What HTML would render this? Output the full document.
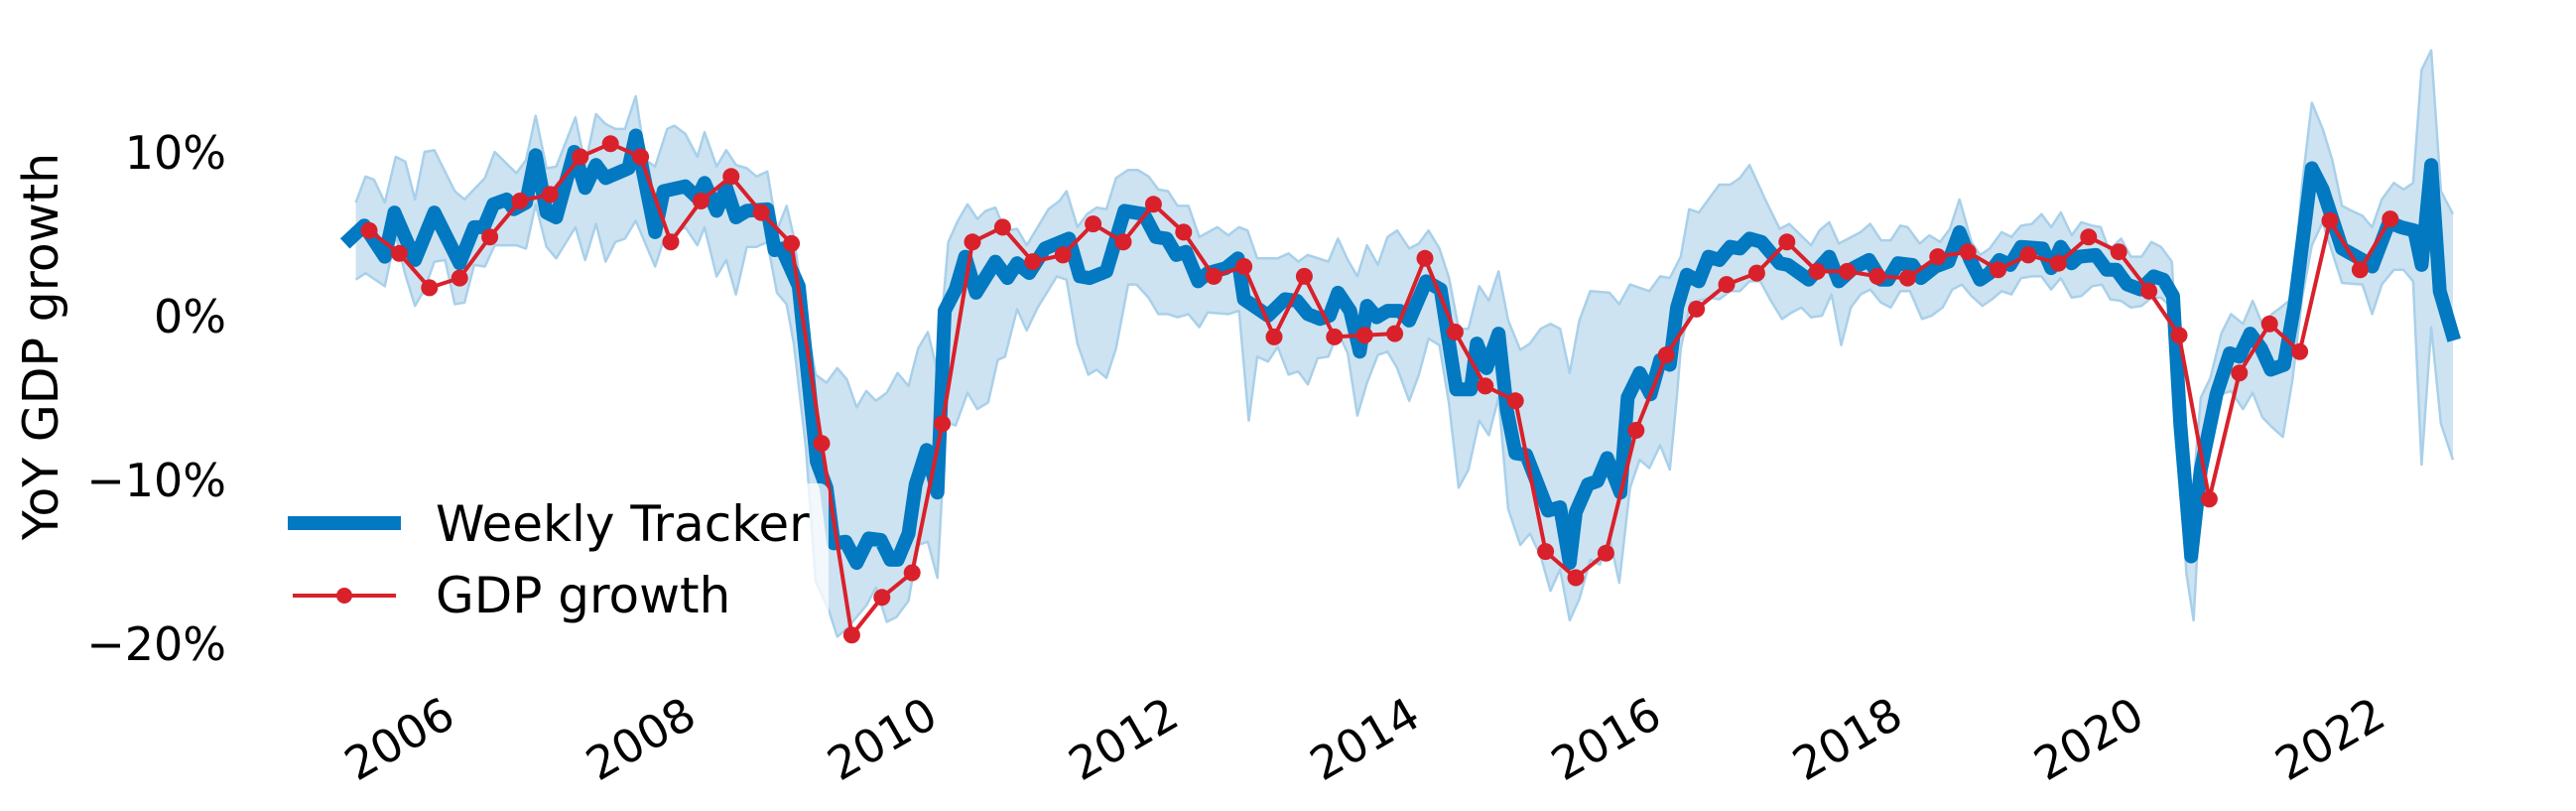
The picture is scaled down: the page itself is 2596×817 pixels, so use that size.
<!DOCTYPE html>
<html><head><meta charset="utf-8"><style>
html,body{margin:0;padding:0;background:#fff;}
svg{display:block;font-family:"DejaVu Sans","Liberation Sans",sans-serif;}
</style></head><body>
<svg id="chart" width="2596" height="817" viewBox="0 0 2596 817" xmlns="http://www.w3.org/2000/svg">
<g id="band"></g>
<g id="tracker"></g>
<g id="gdp"></g>
<g id="yaxis"></g>
<g id="xaxis"></g>
<text x="58" y="349" font-size="49" text-anchor="middle" transform="rotate(-90 58 349)">YoY GDP growth</text>
<g>
<rect x="276" y="487" width="559" height="158" rx="9" fill="#fff" fill-opacity="0.75" stroke="none"/>
<line x1="290" y1="527" x2="404" y2="527" stroke="#0279c1" stroke-width="14"/>
<text x="439" y="545" font-size="50">Weekly Tracker</text>
<line x1="295" y1="600" x2="399" y2="600" stroke="#d9212b" stroke-width="4"/>
<circle cx="347" cy="600" r="8" fill="#d9212b"/>
<text x="439" y="617" font-size="50">GDP growth</text>
</g>
</svg>
<script>
const gdpStart = 2005.25;
const gdpValues = [5.2,3.8,1.7,2.3,4.8,7.0,7.4,9.7,10.5,9.7,4.5,7.0,8.5,6.3,4.4,-7.8,-19.5,-17.2,-15.7,-6.6,4.5,5.4,3.3,3.7,5.6,4.5,6.8,5.1,2.4,3.0,-1.3,2.4,-1.3,-1.2,-1.1,3.5,-1.0,-4.3,-5.2,-14.4,-16.0,-14.5,-7.0,-2.4,0.4,1.9,2.6,4.5,2.7,2.7,2.4,2.3,3.6,3.9,2.8,3.7,3.2,4.8,3.9,1.5,-1.2,-11.2,-3.5,-0.5,-2.2,5.8,2.8,5.9];
const trackerDates = [2005.05,2005.21,2005.38,2005.46,2005.63,2005.79,2006.00,2006.12,2006.20,2006.28,2006.39,2006.45,2006.55,2006.63,2006.72,2006.80,2006.95,2007.04,2007.13,2007.21,2007.40,2007.46,2007.62,2007.69,2007.87,2007.97,2008.03,2008.13,2008.21,2008.29,2008.38,2008.55,2008.61,2008.67,2008.81,2008.88,2008.96,2009.04,2009.10,2009.20,2009.29,2009.39,2009.49,2009.57,2009.63,2009.72,2009.78,2009.87,2009.96,2010.02,2010.11,2010.19,2010.28,2010.44,2010.54,2010.62,2010.72,2010.85,2011.05,2011.14,2011.22,2011.36,2011.51,2011.67,2011.77,2011.86,2011.94,2012.02,2012.12,2012.20,2012.35,2012.45,2012.50,2012.70,2012.84,2012.94,2013.03,2013.13,2013.21,2013.28,2013.38,2013.46,2013.52,2013.60,2013.69,2013.79,2013.87,2014.01,2014.13,2014.26,2014.38,2014.43,2014.51,2014.61,2014.68,2014.75,2014.84,2015.02,2015.12,2015.20,2015.25,2015.35,2015.43,2015.51,2015.62,2015.68,2015.78,2015.87,2015.95,2016.03,2016.09,2016.17,2016.27,2016.35,2016.44,2016.53,2016.61,2016.69,2016.79,2016.94,2017.01,2017.18,2017.35,2017.43,2017.55,2017.68,2017.78,2017.84,2017.92,2018.04,2018.11,2018.23,2018.34,2018.43,2018.52,2018.60,2018.68,2018.76,2018.85,2018.94,2019.12,2019.19,2019.27,2019.36,2019.42,2019.56,2019.65,2019.73,2019.82,2019.93,2020.04,2020.12,2020.20,2020.26,2020.35,2020.43,2020.56,2020.67,2020.75,2020.84,2020.93,2021.01,2021.12,2021.21,2021.35,2021.44,2021.60,2021.77,2021.85,2021.99,2022.09,2022.20,2022.26,2022.34,2022.41,2022.53];
const trackerValues = [4.4,5.5,3.6,6.3,3.4,6.3,3.2,5.4,5.4,6.8,7.1,6.5,6.9,9.8,6.3,6.0,10.0,7.8,9.2,8.4,9.0,11.0,5.1,7.6,7.9,7.2,8.1,6.4,7.8,6.0,6.4,6.5,4.0,4.1,1.8,-3.2,-8.9,-10.5,-13.9,-13.8,-15.1,-13.6,-13.7,-14.9,-14.9,-13.3,-10.3,-8.2,-10.8,0.3,1.6,3.6,1.4,3.3,2.3,3.2,2.6,4.1,4.7,2.4,2.3,2.7,6.4,6.2,4.8,4.7,3.7,3.9,2.1,2.6,2.9,3.5,1.0,0.0,1.0,0.9,0.1,-0.2,0.0,1.4,0.3,-2.2,0.6,-0.1,0.3,0.3,-0.3,2.1,1.6,-4.5,-4.5,-1.7,-3.2,-1.1,-5.8,-8.4,-8.5,-11.9,-11.7,-15.1,-12.0,-10.3,-10.1,-8.7,-10.8,-5.0,-3.5,-4.8,-2.7,-3.0,0.5,2.5,2.1,3.6,3.4,4.2,4.1,4.7,4.5,3.2,3.1,2.2,3.6,2.1,2.9,3.4,2.2,2.2,3.2,3.1,2.3,3.0,3.3,5.1,3.4,2.2,2.6,3.4,3.1,4.2,4.1,2.9,4.2,3.2,3.6,3.7,2.8,2.8,1.9,1.6,2.4,2.2,1.2,-6.6,-14.7,-9.4,-4.8,-2.3,-2.5,-1.1,-2.0,-3.3,-3.0,0.8,9.0,7.7,4.1,3.4,3.0,5.7,5.4,5.2,3.1,9.2,1.5,-1.5];
const upperDates = [2005.14,2005.22,2005.29,2005.38,2005.47,2005.55,2005.63,2005.71,2005.79,2005.96,2006.04,2006.21,2006.29,2006.47,2006.55,2006.63,2006.72,2006.80,2006.96,2007.04,2007.13,2007.21,2007.29,2007.37,2007.46,2007.54,2007.62,2007.72,2007.78,2007.87,2007.97,2008.03,2008.13,2008.21,2008.29,2008.38,2008.46,2008.55,2008.63,2008.71,2008.77,2008.85,2008.95,2009.04,2009.13,2009.21,2009.29,2009.37,2009.45,2009.54,2009.63,2009.72,2009.80,2009.88,2009.96,2010.05,2010.13,2010.21,2010.29,2010.36,2010.44,2010.52,2010.62,2010.70,2010.79,2010.88,2010.97,2011.03,2011.12,2011.20,2011.28,2011.36,2011.44,2011.54,2011.62,2011.71,2011.79,2011.87,2011.95,2012.04,2012.13,2012.28,2012.37,2012.46,2012.53,2012.61,2012.78,2012.87,2012.95,2013.03,2013.20,2013.28,2013.36,2013.44,2013.52,2013.61,2013.69,2013.77,2013.87,2013.95,2014.03,2014.12,2014.20,2014.28,2014.36,2014.45,2014.53,2014.61,2014.69,2014.79,2014.87,2014.96,2015.04,2015.12,2015.20,2015.28,2015.37,2015.53,2015.61,2015.70,2015.86,2015.95,2016.03,2016.12,2016.19,2016.27,2016.44,2016.53,2016.61,2016.69,2016.82,2016.94,2017.02,2017.20,2017.27,2017.35,2017.43,2017.51,2017.61,2017.69,2017.78,2017.86,2017.94,2018.00,2018.10,2018.18,2018.27,2018.35,2018.43,2018.53,2018.60,2018.68,2018.78,2018.86,2018.94,2019.03,2019.11,2019.19,2019.27,2019.36,2019.44,2019.53,2019.60,2019.67,2019.77,2019.85,2019.94,2020.02,2020.10,2020.19,2020.28,2020.34,2020.43,2020.51,2020.60,2020.68,2020.78,2020.86,2020.94,2021.02,2021.11,2021.19,2021.27,2021.35,2021.44,2021.52,2021.60,2021.68,2021.77,2021.85,2021.93,2022.03,2022.11,2022.19,2022.26,2022.34,2022.42,2022.52];
const upperValues = [6.9,8.5,8.3,6.9,9.7,9.4,7.1,10.0,10.1,7.6,7.1,8.4,10.0,8.7,9.5,12.2,9.0,9.1,12.1,9.2,12.3,11.7,11.4,11.4,13.4,9.5,9.1,11.4,11.6,11.1,9.7,11.2,9.1,10.1,9.2,9.0,8.5,8.8,5.2,6.7,4.8,0.5,-3.6,-4.1,-3.2,-3.9,-5.6,-4.6,-5.2,-4.7,-3.5,-4.3,-2.0,-1.0,-3.4,4.5,5.8,6.8,5.9,6.4,6.6,5.2,5.3,4.3,5.4,6.5,7.0,7.6,5.4,6.2,6.6,6.5,8.4,8.9,8.9,8.5,7.7,7.6,6.7,6.7,4.8,5.4,4.9,5.4,5.2,3.5,3.5,3.8,3.3,3.7,3.3,4.7,3.4,2.4,4.3,3.1,4.8,5.2,4.1,4.4,5.2,4.1,2.3,-0.8,-0.8,1.8,0.9,2.7,-0.3,-2.1,-1.7,-0.8,-0.5,-0.8,-3.5,-0.3,1.5,1.4,0.7,1.9,1.5,2.4,2.3,3.6,6.5,6.3,8.0,8.0,8.4,9.2,7.1,5.3,5.6,4.3,5.2,5.7,4.4,4.7,5.1,5.6,4.6,4.6,5.5,5.4,4.4,4.9,4.5,5.3,7.1,4.5,3.7,4.1,5.1,4.8,5.5,5.6,6.2,5.4,6.3,4.9,5.7,5.5,5.4,4.0,4.7,3.6,3.6,4.5,4.2,3.3,-8.6,-13.0,-5.0,-3.8,-1.1,0.1,-0.5,0.9,-0.5,0.1,0.6,1.1,8.0,13.0,11.4,9.5,6.7,6.4,6.1,5.4,7.1,8.1,7.7,8.1,15.0,16.2,7.6,6.2];
const lowerDates = [2005.14,2005.22,2005.38,2005.47,2005.55,2005.63,2005.71,2005.79,2005.88,2005.96,2006.04,2006.12,2006.21,2006.29,2006.47,2006.55,2006.63,2006.72,2006.80,2006.96,2007.04,2007.13,2007.21,2007.29,2007.37,2007.46,2007.62,2007.69,2007.87,2007.97,2008.03,2008.13,2008.21,2008.29,2008.38,2008.46,2008.55,2008.63,2008.71,2008.77,2008.87,2008.95,2009.06,2009.13,2009.21,2009.29,2009.37,2009.45,2009.54,2009.62,2009.72,2009.80,2009.88,2009.96,2010.03,2010.11,2010.21,2010.29,2010.38,2010.46,2010.52,2010.62,2010.70,2010.79,2010.95,2011.03,2011.12,2011.21,2011.28,2011.36,2011.44,2011.54,2011.61,2011.71,2011.79,2011.87,2011.95,2012.04,2012.13,2012.20,2012.37,2012.46,2012.54,2012.61,2012.70,2012.78,2012.87,2012.95,2013.03,2013.11,2013.20,2013.28,2013.36,2013.44,2013.52,2013.61,2013.69,2013.77,2013.87,2013.95,2014.03,2014.12,2014.20,2014.28,2014.36,2014.45,2014.53,2014.61,2014.69,2014.79,2014.87,2014.96,2015.04,2015.12,2015.20,2015.28,2015.37,2015.45,2015.53,2015.61,2015.70,2015.78,2015.86,2015.95,2016.03,2016.09,2016.12,2016.20,2016.36,2016.44,2016.53,2016.61,2016.69,2016.78,2016.86,2016.96,2017.04,2017.12,2017.20,2017.29,2017.37,2017.45,2017.53,2017.61,2017.69,2017.78,2017.86,2017.94,2018.02,2018.12,2018.20,2018.29,2018.37,2018.45,2018.53,2018.62,2018.70,2018.78,2018.86,2018.94,2019.03,2019.11,2019.19,2019.27,2019.36,2019.44,2019.53,2019.61,2019.68,2019.77,2019.85,2019.94,2020.02,2020.10,2020.19,2020.31,2020.37,2020.43,2020.51,2020.60,2020.68,2020.78,2020.86,2020.94,2021.02,2021.11,2021.19,2021.27,2021.35,2021.44,2021.60,2021.77,2021.85,2021.93,2022.03,2022.11,2022.19,2022.26,2022.34,2022.42,2022.52];
const lowerValues = [2.2,2.6,1.8,4.9,2.5,0.6,1.6,3.3,3.4,0.7,0.8,3.1,3.0,4.3,4.3,4.1,6.8,4.2,3.5,5.4,3.4,5.6,3.3,4.5,4.7,5.8,3.0,4.6,5.4,4.3,5.4,2.4,3.4,1.3,4.2,4.2,4.5,1.4,0.7,-1.7,-8.1,-16.2,-18.0,-19.6,-19.1,-18.4,-17.7,-16.6,-18.7,-18.4,-17.4,-14.0,-13.8,-16.0,-6.5,-6.7,-4.7,-5.7,-5.3,-2.7,-2.5,0.4,-0.9,0.5,2.4,2.2,-1.7,-3.6,-3.3,-3.8,-2.0,1.9,1.9,1.1,0.1,0.1,-0.1,0.1,-0.7,0.2,0.1,0.3,-6.4,-2.5,-2.8,-1.9,-3.6,-3.4,-4.2,-2.6,-2.5,-1.0,-2.3,-6.1,-4.1,-2.4,-2.2,-3.2,-5.2,-3.6,-1.4,-1.8,-5.4,-10.5,-9.4,-6.4,-7.3,-5.0,-11.8,-14.0,-13.3,-14.7,-16.8,-15.5,-18.6,-17.3,-14.9,-15.2,-13.5,-16.3,-10.5,-8.8,-9.3,-7.9,-9.4,-4.8,-2.0,0.8,1.1,1.0,1.5,1.5,2.1,2.1,1.0,-0.2,0.2,0.5,-0.1,0.0,1.3,-1.8,0.5,1.3,1.6,0.8,0.5,1.5,1.5,-0.2,0.0,0.5,1.6,1.9,1.2,0.6,1.0,1.5,1.3,2.3,2.4,2.4,1.6,2.3,1.1,1.2,1.8,1.9,1.0,0.9,0.5,0.6,1.1,1.1,0.5,-15.7,-18.6,-10.5,-6.6,-4.8,-4.6,-5.7,-4.7,-6.2,-6.8,-7.4,-3.9,1.1,4.3,5.7,2.0,1.9,0.1,1.9,2.8,2.8,2.1,-9.1,-0.7,-6.6,-8.8];
const yTicks = [10, 0, -10, -20];
const yTickLabels = ["10%", "0%", "\u221210%", "\u221220%"];
const xTicks = [2006, 2008, 2010, 2012, 2014, 2016, 2018, 2020, 2022];
const xTickLabels = ["2006", "2008", "2010", "2012", "2014", "2016", "2018", "2020", "2022"];

const NS = "http://www.w3.org/2000/svg";
function xs(t) { return 463.2 + 121.6 * (t - 2006); }
function ys(v) { return 318 - 16.5 * v; }
function mk(tag, parent, attrs) {
  const e = document.createElementNS(NS, tag);
  for (const k in attrs) e.setAttribute(k, attrs[k]);
  parent.appendChild(e);
  return e;
}
function pts(d, v) { return d.map((t, i) => xs(t).toFixed(1) + "," + ys(v[i]).toFixed(1)); }

const band = document.getElementById("band");
const up = pts(upperDates, upperValues);
const lo = pts(lowerDates, lowerValues).reverse();
const area = mk("polygon", band, {points: up.concat(lo).join(" "), fill: "#cde3f1", stroke: "none"});


const upLine = mk("polyline", band, {points: up.join(" "), fill: "none", stroke: "#a9d0ea", "stroke-width": 2.5, "stroke-linejoin": "round"});


const loLine = mk("polyline", band, {points: pts(lowerDates, lowerValues).join(" "), fill: "none", stroke: "#a9d0ea", "stroke-width": 2.5, "stroke-linejoin": "round"});



const tr = mk("polyline", document.getElementById("tracker"), {points: pts(trackerDates, trackerValues).join(" "), fill: "none", stroke: "#0279c1", "stroke-width": 14, "stroke-linejoin": "round", "stroke-linecap": "butt"});



const gG = document.getElementById("gdp");
const gdpDates = gdpValues.map((v, i) => gdpStart + 0.25 * i);
const gl = mk("polyline", gG, {points: pts(gdpDates, gdpValues).join(" "), fill: "none", stroke: "#d9212b", "stroke-width": 4, "stroke-linejoin": "round"});


gdpValues.forEach((v, i) => {
  const c = mk("circle", gG, {cx: xs(gdpDates[i]).toFixed(1), cy: ys(v).toFixed(1), r: 8.5, fill: "#d9212b"});
  
  
});

const ya = document.getElementById("yaxis");
yTicks.forEach((v, i) => {
  const t = mk("text", ya, {x: 228, y: (ys(v) + 17).toFixed(1), "font-size": 46, "text-anchor": "end", fill: "#000"});
  t.textContent = yTickLabels[i];
  
  
});

const xa = document.getElementById("xaxis");
xTicks.forEach((yr, i) => {
  const x = xs(yr) - 2, y = 729;
  const t = mk("text", xa, {x: x.toFixed(1), y: y, "font-size": 46, "text-anchor": "end", fill: "#000", transform: "rotate(-30 " + x.toFixed(1) + " " + y + ")"});
  t.textContent = xTickLabels[i];
  
  
});
</script>
</body></html>
